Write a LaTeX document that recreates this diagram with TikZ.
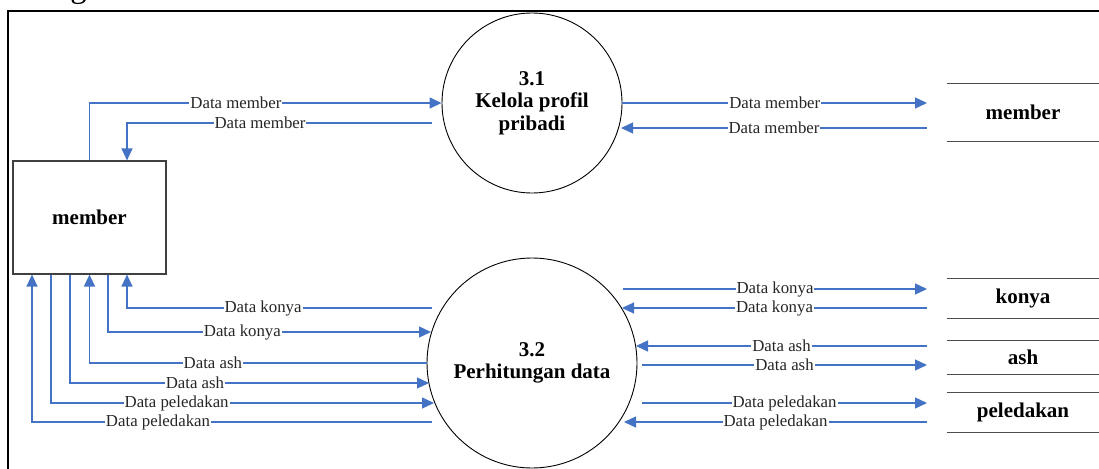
\documentclass[tikz,border=0pt]{standalone}
\usepackage{fontspec}
\setmainfont{Liberation Serif}
\usetikzlibrary{arrows.meta}
\definecolor{flowblue}{HTML}{4472C4}

\begin{document}
\begin{tikzpicture}[x=1pt, y=-1pt,
  flow/.style={draw=flowblue, line width=1.3pt, -{Triangle[length=12pt,width=11pt]}},
  lbl/.style={fill=white, inner xsep=1pt, inner ysep=0pt, text=black!85, font=\fontsize{16.8}{18}\selectfont},
  proc/.style={draw, circle, line width=0.9pt, align=center, font=\bfseries\fontsize{21}{22.5}\selectfont},
  ext/.style={draw=black!75, line width=1.2pt, minimum width=153pt, minimum height=113pt, font=\bfseries\fontsize{21}{22.5}\selectfont},
  store/.style={inner sep=0pt, minimum width=152pt, font=\bfseries\fontsize{21}{22.5}\selectfont},
  storeline/.style={draw=black!70, line width=1.2pt}]
\useasboundingbox (0,0) rectangle (1099,468);
\node[anchor=base west, inner sep=0pt, font=\fontsize{32.7}{34}\selectfont] (cap) at (3,-2.5) {hitungan data.};
\draw[line width=2.5pt] (8,480) -- (8,11) -- (1110,11);
\node[ext] (mem) at (89.5,217.5) {member};
\node[proc, minimum size=180pt] (P31) at (532,103) {3.1\\Kelola profil\\pribadi};
\node[proc, minimum size=210pt] (P32) at (532,363) {3.2\\Perhitungan data};
\node[store, minimum height=57pt] (Smem) at (1023,112.5) {member};
\node[store, minimum height=39pt] (Skonya) at (1023,298.5) {konya};
\node[store, minimum height=33pt] (Sash) at (1023,357.5) {ash};
\node[store, minimum height=39pt] (Sled) at (1023,412.5) {peledakan};
\foreach \s in {Smem, Skonya, Sash, Sled} {
  \draw[storeline] (\s.north west) -- (\s.north east);
  \draw[storeline] (\s.south west) -- (\s.south east);
}
\coordinate (a1) at (432,123);
\coordinate (a2) at (927,103);
\coordinate (a3) at (927,128);
\coordinate (a4) at (621,128);
\coordinate (b1) at (432,308);
\coordinate (b2) at (431,332);
\coordinate (b3) at (429,383);
\coordinate (b4) at (434,403);
\coordinate (b5) at (432,422);
\coordinate (c1) at (623,289);
\coordinate (c2) at (927,289);
\coordinate (c3) at (927,308);
\coordinate (c4) at (622,308);
\coordinate (c5) at (927,346);
\coordinate (c6) at (636,346);
\coordinate (c7) at (642,365);
\coordinate (c8) at (927,365);
\coordinate (c9) at (642,403);
\coordinate (c10) at (927,403);
\coordinate (c11) at (927,422);
\coordinate (c12) at (624,422);
\draw[flow] (mem.north) |- node[lbl, pos=0.708] {Data member} (P31.west);
\draw[flow] (a1) -| node[lbl, pos=0.282] {Data member} ([xshift=37.5pt]mem.north);
\draw[flow] (P31.east) -- node[lbl] {Data member} (a2);
\draw[flow] (a3) -- node[lbl] {Data member} (a4);
\draw[flow] (b1) -| node[lbl, pos=0.277] {Data konya} ([xshift=37.5pt]mem.south);
\draw[flow] ([xshift=18.5pt]mem.south) |- node[lbl, pos=0.708] {Data konya} (b2);
\draw[flow] (P32.west) -| node[lbl, pos=0.317] {Data ash} (mem.south);
\draw[flow] ([xshift=-19.5pt]mem.south) |- node[lbl, pos=0.674] {Data ash} (b3);
\draw[flow] ([xshift=-38.5pt]mem.south) |- node[lbl, pos=0.664] {Data peledakan} (b4);
\draw[flow] (b5) -| node[lbl, pos=0.3425] {Data peledakan} ([xshift=-57.5pt]mem.south);
\draw[flow] (c1) -- node[lbl] {Data konya} (c2);
\draw[flow] (c3) -- node[lbl] {Data konya} (c4);
\draw[flow] (c5) -- node[lbl] {Data ash} (c6);
\draw[flow] (c7) -- node[lbl] {Data ash} (c8);
\draw[flow] (c9) -- node[lbl] {Data peledakan} (c10);
\draw[flow] (c11) -- node[lbl] {Data peledakan} (c12);
\end{tikzpicture}
\end{document}
